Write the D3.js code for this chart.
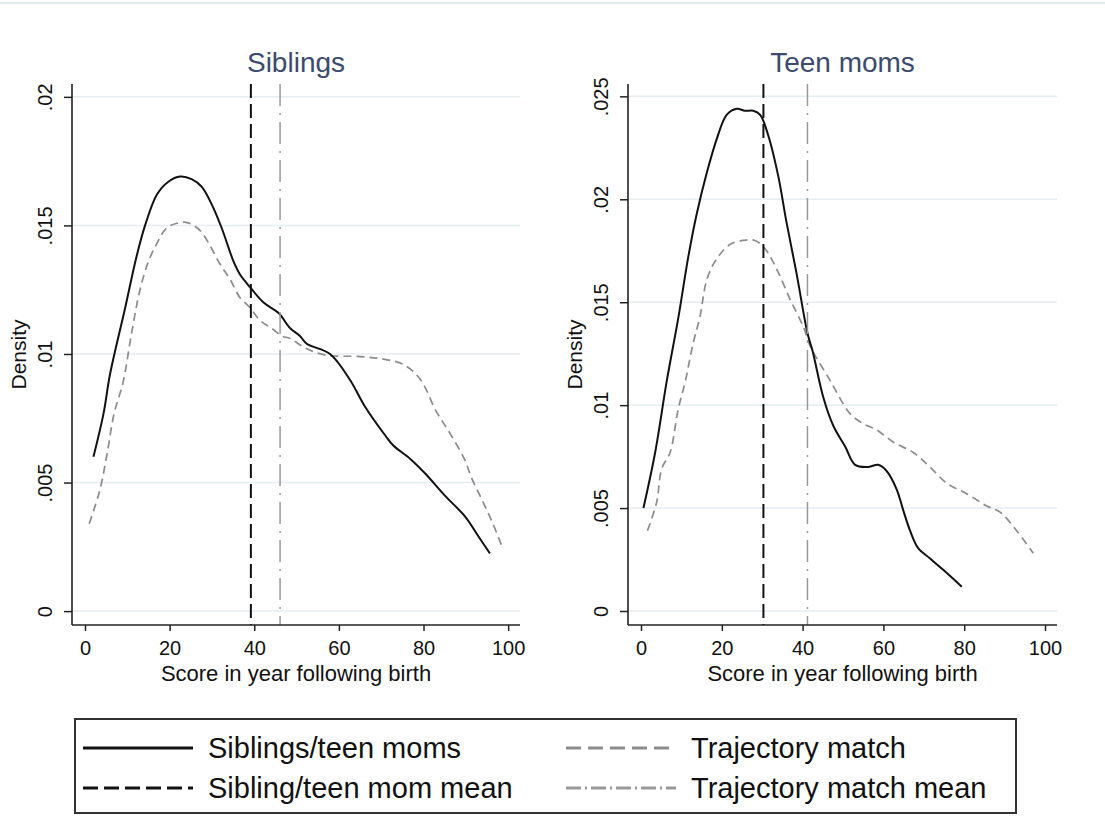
<!DOCTYPE html>
<html>
<head>
<meta charset="utf-8">
<script src="https://cdn.jsdelivr.net/npm/d3@7"></script>
<style>
  body { margin: 0; background: #fff; }
  svg { display: block; font-family: Arial, "Liberation Sans", sans-serif; }
</style>
</head>
<body>
<svg id="chart"></svg>
<script>
// Tick values
const xTicks = [0, 20, 40, 60, 80, 100];
const siblingsTicks = [0, 0.005, 0.01, 0.015, 0.02];
const teenTicks = [0, 0.005, 0.01, 0.015, 0.02, 0.025];

// Siblings panel: kernel densities [score, density]
const siblingsObserved = [
  [2, 0.0060], [4.4, 0.0077], [5.9, 0.0092], [9.5, 0.0118], [12.2, 0.0138],
  [14.2, 0.0150], [17, 0.0162], [19.7, 0.0167], [22.5, 0.0169], [25.2, 0.0168],
  [27.6, 0.0165], [30, 0.0158], [32.3, 0.0149], [35.1, 0.0136], [36.6, 0.0131],
  [39, 0.0126], [42.2, 0.0120], [45.7, 0.0116], [48.5, 0.0110], [50.8, 0.0107],
  [52.4, 0.0104], [57.9, 0.0100], [62.6, 0.0090], [66, 0.0080], [71.1, 0.0068],
  [72.8, 0.00645], [77, 0.0059], [80.4, 0.00535], [85, 0.0045], [89.7, 0.0037],
  [93, 0.0029], [95.7, 0.00224]
];
const siblingsMatch = [
  [1, 0.0034], [3.5, 0.0047], [5.2, 0.0061], [6.9, 0.0077], [9, 0.0089],
  [11, 0.0108], [13, 0.0125], [15, 0.0136], [17, 0.0143], [19.3, 0.0149],
  [22.1, 0.0151], [24.4, 0.0151], [27.2, 0.0148], [29.6, 0.0142], [31.9, 0.0135],
  [34.3, 0.0129], [36.6, 0.0122], [39, 0.0118], [41.4, 0.0113], [44.1, 0.0110],
  [46.5, 0.0107], [48.5, 0.0106], [52.4, 0.0102], [57.1, 0.00995], [65, 0.0099],
  [70.5, 0.0098], [75.2, 0.0096], [79.3, 0.0090], [82.9, 0.0078], [86.3, 0.0069],
  [89.7, 0.0059], [91.3, 0.0052], [93.9, 0.0043], [96.4, 0.0034], [98.8, 0.0024]
];
const siblingsMeans = [39.2, 46.1];   // sibling mean, trajectory match mean

// Teen moms panel
const teenObserved = [
  [0.6, 0.0050], [3.5, 0.0077], [6.4, 0.0112], [9.2, 0.0142], [11.7, 0.0172],
  [13.8, 0.0193], [16.3, 0.0213], [18.7, 0.0229], [21.2, 0.0241], [23.7, 0.0244],
  [25.7, 0.0243], [27.8, 0.0243], [29.5, 0.0241], [31.5, 0.0231], [34, 0.0211],
  [36, 0.0189], [38.5, 0.0164], [41.2, 0.0135], [42.5, 0.0126], [45.1, 0.0104],
  [47.6, 0.0090], [50.5, 0.0080], [53, 0.0071], [56.3, 0.0070], [58.7, 0.0071],
  [60.8, 0.0068], [63.3, 0.0059], [64.9, 0.0049], [66.6, 0.0039], [68.6, 0.00305],
  [71.5, 0.00256], [74.8, 0.0020], [79.4, 0.00118]
];
const teenMatch = [
  [1.6, 0.0039], [3.9, 0.0053], [5.1, 0.0069], [7.2, 0.0077], [9.2, 0.0098],
  [10.9, 0.0111], [12.9, 0.0130], [14.6, 0.0143], [16.3, 0.0161], [18.7, 0.0171],
  [22, 0.0178], [25.3, 0.0180], [28.2, 0.0180], [30.7, 0.0176], [33.6, 0.0166],
  [37, 0.0151], [40.2, 0.0138], [41.8, 0.0129], [46.8, 0.0112], [51.7, 0.0096],
  [55, 0.0091], [58.3, 0.0088], [62.5, 0.0082], [67.4, 0.0077], [71.5, 0.0070],
  [75.7, 0.0062], [80.6, 0.0057], [85.6, 0.0051], [88.9, 0.0048], [93, 0.0039],
  [97.1, 0.0028]
];
const teenMeans = [30.3, 41.2];

const legendLabels = ["Siblings/teen moms", "Trajectory match", "Sibling/teen mom mean", "Trajectory match mean"];

const width = 1105, height = 840;
const svg = d3.select("#chart").attr("width", width).attr("height", height);

// faint frame line at the very top
svg.append("line")
  .attr("x1", 0).attr("x2", width).attr("y1", 3).attr("y2", 3)
  .style("stroke", "#e3ebee").style("stroke-width", 2);

const styles = {
  observed: { stroke: "#111", width: 2, dash: null },
  match: { stroke: "#8c8c8c", width: 1.7, dash: "8,5" },
  obsMean: { stroke: "#111", width: 2, dash: "14,6" },
  matchMean: { stroke: "#999", width: 1.5, dash: "22,7,2,7" }
};

const panels = [
  { title: "Siblings", left: 72, right: 520, xDomain: [-3.07, 102.8], yDomain: [-0.00054, 0.0205],
    ticks: siblingsTicks, observed: siblingsObserved, match: siblingsMatch, means: siblingsMeans },
  { title: "Teen moms", left: 628, right: 1057, xDomain: [-3.22, 102.97], yDomain: [-0.00068, 0.0256],
    ticks: teenTicks, observed: teenObserved, match: teenMatch, means: teenMeans }
];

const plotTop = 84, plotBottom = 625;
const fmt = d => d === 0 ? "0" : String(d).replace(/^0/, "");

panels.forEach(p => {
  const x = d3.scaleLinear().domain(p.xDomain).range([p.left, p.right]);
  const y = d3.scaleLinear().domain(p.yDomain).range([plotBottom, plotTop]);
  const g = svg.append("g");

  // gridlines
  g.selectAll(".grid").data(p.ticks).enter().append("line")
    .attr("x1", p.left).attr("x2", p.right)
    .attr("y1", d => y(d)).attr("y2", d => y(d))
    .style("stroke", "#e4edf0").style("stroke-width", 1.5);

  // curves
  const line = d3.line().x(d => x(d[0])).y(d => y(d[1])).curve(d3.curveCatmullRom);
  [["match", p.match], ["observed", p.observed]].forEach(([k, data]) => {
    g.append("path").datum(data)
      .attr("d", line)
      .style("fill", "none")
      .style("stroke", styles[k].stroke)
      .style("stroke-width", styles[k].width)
      .style("stroke-dasharray", styles[k].dash);
  });

  // mean lines
  [["obsMean", p.means[0]], ["matchMean", p.means[1]]].forEach(([k, v]) => {
    g.append("line")
      .attr("x1", x(v)).attr("x2", x(v)).attr("y1", plotTop).attr("y2", plotBottom)
      .style("stroke", styles[k].stroke)
      .style("stroke-width", styles[k].width)
      .style("stroke-dasharray", styles[k].dash);
  });

  // axes
  const yAxis = g.append("g").attr("transform", `translate(${p.left},0)`)
    .call(d3.axisLeft(y).tickValues(p.ticks).tickSize(8).tickFormat(fmt));
  yAxis.select(".domain").attr("d", `M0,${plotTop}V${plotBottom}`);
  yAxis.selectAll("text")
    .attr("x", null).attr("dy", null)
    .attr("text-anchor", "middle")
    .attr("transform", "translate(-20,0) rotate(-90)")
    .style("font-size", "20px").style("fill", "#111");

  const xAxis = g.append("g").attr("transform", `translate(0,${plotBottom})`)
    .call(d3.axisBottom(x).tickValues(xTicks).tickSize(6));
  xAxis.select(".domain").attr("d", `M${p.left},0H${p.right}`);
  xAxis.selectAll("text").attr("y", 30).attr("dy", null)
    .style("font-size", "20px").style("fill", "#111");

  [yAxis, xAxis].forEach(a => {
    a.select(".domain").style("stroke", "#222").style("stroke-width", 1.6);
    a.selectAll(".tick line").style("stroke", "#222").style("stroke-width", 1.5);
  });

  const cx = (p.left + p.right) / 2;
  g.append("text").attr("x", cx).attr("y", 681).attr("text-anchor", "middle")
    .style("font-size", "22px").style("fill", "#111")
    .text("Score in year following birth");

  g.append("text")
    .attr("transform", `translate(${p.left - 46},${(plotTop + plotBottom) / 2}) rotate(-90)`)
    .attr("text-anchor", "middle")
    .style("font-size", "21px").style("fill", "#111")
    .text("Density");

  g.append("text").attr("x", cx).attr("y", 72).attr("text-anchor", "middle")
    .style("font-size", "28px").style("fill", "#3c4a6e")
    .text(p.title);
});

// legend
const legend = svg.append("g");
legend.append("rect")
  .attr("x", 75).attr("y", 719).attr("width", 941).attr("height", 94)
  .style("fill", "none").style("stroke", "#333").style("stroke-width", 2);

const legendKeys = ["observed", "match", "obsMean", "matchMean"];
const legendDash = { observed: null, match: "15,7", obsMean: "15,6", matchMean: "15,4,2,4" };
legendLabels.forEach((label, i) => {
  const col = i % 2, row = Math.floor(i / 2);
  const kx = col === 0 ? 83 : 566;
  const ky = 748 + row * 40;
  const st = styles[legendKeys[i]];
  legend.append("line")
    .attr("x1", kx).attr("x2", kx + 110).attr("y1", ky).attr("y2", ky)
    .style("stroke", st.stroke).style("stroke-width", 3)
    .style("stroke-dasharray", legendDash[legendKeys[i]]);
  legend.append("text")
    .attr("x", kx + 125).attr("y", ky).attr("dy", "0.35em")
    .style("font-size", "29px").style("fill", "#111")
    .text(label);
});
</script>
</body>
</html>
